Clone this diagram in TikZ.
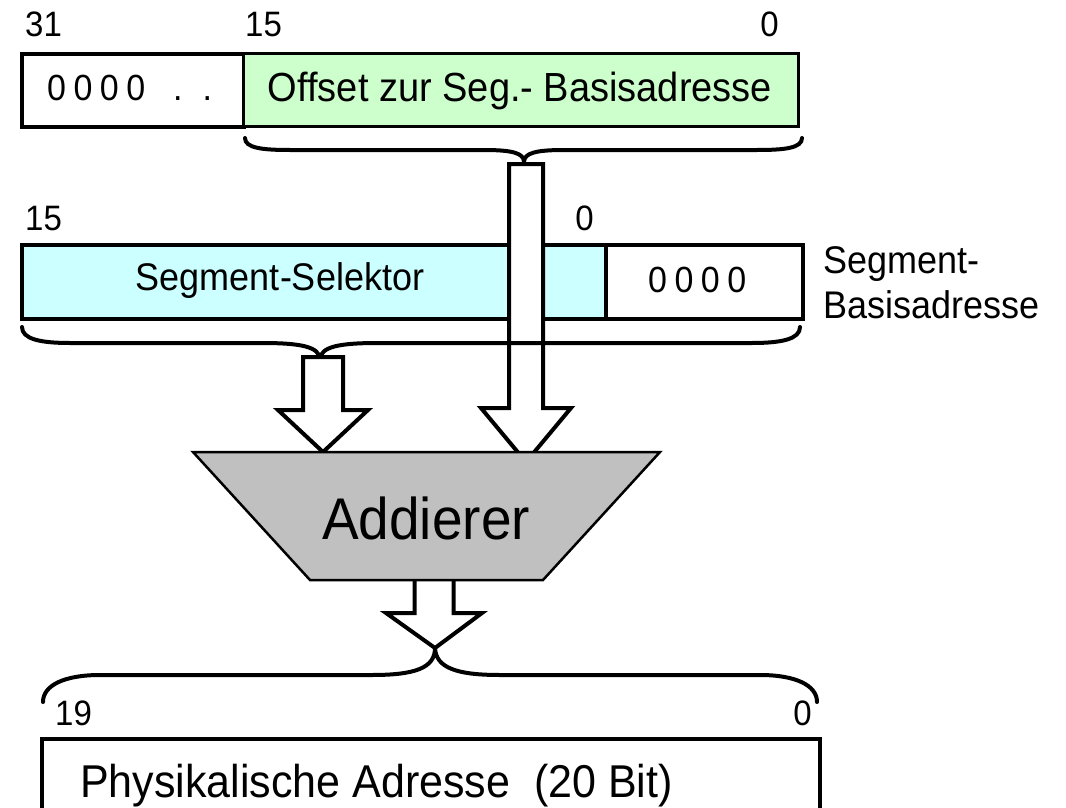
\documentclass[tikz,border=0pt]{standalone}
\usepackage{graphicx}
\usepackage{fontspec}
\setmainfont{Liberation Sans}
\newfontfamily\spacedfont[LetterSpace=22]{Liberation Sans}
\usetikzlibrary{calc}

\definecolor{offgreen}{HTML}{CCFFCC}
\definecolor{selcyan}{HTML}{CCFFFF}
\definecolor{addgray}{HTML}{C0C0C0}

% slightly taller lettering
\newcommand\tallt[1]{\scalebox{1}[1.07]{#1}}

\tikzset{
  box/.style={draw, line width=4pt, inner sep=0pt, anchor=north west},
  bitlabel/.style={font=\fontsize{33}{33}\selectfont, inner sep=0pt, anchor=base west},
  txt/.style={inner sep=0pt, anchor=base west},
  bracepath/.style={line width=4pt, line cap=round},
  arrowbody/.style={draw, fill=white, line width=4pt, line join=miter},
}

% hollow block arrow from #1 down to #2: shaft half width #3, head half width #4, head length #5
\newcommand\bigarrow[5]{%
  \draw[arrowbody] let \p1=(#1), \p2=(#2) in
    (\x1-#3pt,\y1) -- (\x1-#3pt,\y2+#5pt) -- (\x1-#4pt,\y2+#5pt) -- (\x2,\y2)
    -- (\x1+#4pt,\y2+#5pt) -- (\x1+#3pt,\y2+#5pt) -- (\x1+#3pt,\y1) -- cycle;}

\begin{document}
\begin{tikzpicture}[x=1pt, y=-1pt]
\useasboundingbox (0,0) rectangle (1066,808);
\clip (0,0) rectangle (1066,808);

% ---- 32-bit offset register ----
\node[bitlabel] (b31) at (25,37) {\tallt{31}};
\node[bitlabel] (b15a) at (245,37) {\tallt{15}};
\node[bitlabel, anchor=base east] (b0a) at (779,37) {\tallt{0}};

\node[box, fill=white, minimum width=222pt, minimum height=73pt] (hi) at (20,52) {};
\node[txt, font=\spacedfont\fontsize{34}{34}\selectfont] (hitxt) at (47,100)
  {\tallt{0000\hspace{28pt}.\hspace{20pt}.}};
\node[box, fill=offgreen, line width=3pt, minimum width=555pt, minimum height=73pt] (off) at (242,52) {};
\node[txt, anchor=base, font=\fontsize{38}{38}\selectfont] (offtxt) at (520,102)
  {\tallt{Offset zur Seg.- Basisadresse}};

\coordinate (offtip) at (524,162);
\draw[bracepath] (245,138) .. controls (245,148) and (262,150) .. (290,150) -- (484,150)
  .. controls (512,150) and (524,153) .. (offtip)
  .. controls (524,153) and (536,150) .. (564,150) -- (757,150)
  .. controls (785,150) and (802,148) .. (802,138);

% ---- segment register ----
\node[bitlabel] (b15b) at (25,230) {\tallt{15}};
\node[bitlabel, anchor=base east] (b0b) at (594,230) {\tallt{0}};

\node[box, fill=selcyan, line width=3.5pt, minimum width=584pt, minimum height=74pt] (sel) at (20,243) {};
\node[txt, anchor=base, font=\fontsize{36}{36}\selectfont] (seltxt) at (280,290) {\tallt{Segment-Selektor}};
\node[box, fill=white, minimum width=197pt, minimum height=74pt] (low) at (604,243) {};
\node[txt, font=\spacedfont\fontsize{34}{34}\selectfont] (lowtxt) at (648,292) {\tallt{0000}};

\node[txt, font=\fontsize{36}{36}\selectfont] (base1) at (823,273) {\tallt{Segment-}};
\node[txt, font=\fontsize{36}{36}\selectfont] (base2) at (823,318) {\tallt{Basisadresse}};

% offset path runs over the segment register
\coordinate (offstart) at (526,164);
\coordinate (offend) at (526,462);
\bigarrow{offstart}{offend}{17}{45}{54}

\coordinate (segtip) at (320,359);
\draw[bracepath] (22,327) .. controls (22,339) and (40,343) .. (70,343) -- (262,343)
  .. controls (302,343) and (319,347) .. (segtip)
  .. controls (321,347) and (338,343) .. (378,343) -- (752,343)
  .. controls (782,343) and (800,339) .. (800,327);

\coordinate (segstart) at (323,357);
\coordinate (segend) at (323,452);
\bigarrow{segstart}{segend}{20}{45}{42}

% ---- adder ----
\coordinate (outstart) at (434,572);
\coordinate (outend) at (435,648);
\bigarrow{outstart}{outend}{19.5}{48}{35}

\coordinate (tl) at (193,452);
\coordinate (tr) at (660,452);
\coordinate (br) at (543,580);
\coordinate (bl) at (310,580);
\draw[fill=addgray, line width=2.5pt] (tl) -- (tr) -- (br) -- (bl) -- cycle;
\node[txt, anchor=base, font=\fontsize{55}{55}\selectfont] (add) at (426,539) {\tallt{Addierer}};

% ---- physical address ----
\draw[bracepath] (43,702) .. controls (43,685) and (65,675) .. (100,675) -- (372,675)
  .. controls (415,675) and (435,668) .. (outend)
  .. controls (436,668) and (457,675) .. (500,675) -- (760,675)
  .. controls (795,675) and (817,685) .. (817,702);

\node[bitlabel] (b19) at (55,725) {\tallt{19}};
\node[bitlabel, anchor=base east] (b0c) at (812,725) {\tallt{0}};

\node[box, fill=white, minimum width=778pt, minimum height=120pt] (phys) at (40,737) {};
\node[txt, font=\fontsize{43}{43}\selectfont] (physlabel) at (80,797) {\tallt{Physikalische Adresse\ \ (20 Bit)}};
\end{tikzpicture}
\end{document}
